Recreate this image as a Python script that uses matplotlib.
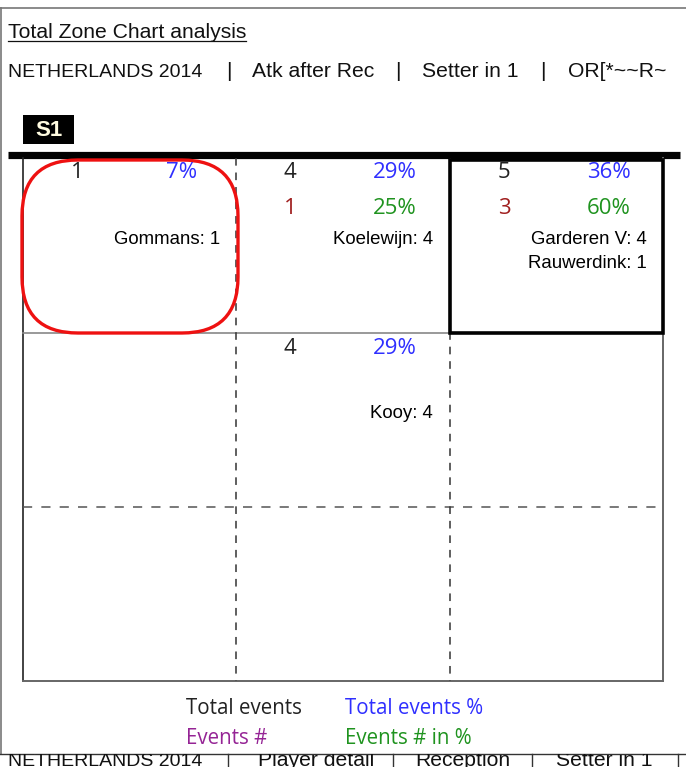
"""
Total Zone Chart analysis - NETHERLANDS 2014, attack after reception, setter in 1.
Draws the court in pixel coordinates so the layout matches the report page.
"""

import matplotlib

matplotlib.use("Agg")

import matplotlib.pyplot as plt
from matplotlib import font_manager
from matplotlib.patches import FancyBboxPatch, Rectangle


# 1. Data

title_text = "Total Zone Chart analysis"
subtitle_parts = ["NETHERLANDS 2014", "Atk after Rec", "Setter in 1", "OR[*~~R~"]
footer_parts = ["NETHERLANDS 2014", "Player detail", "Reception", "Setter in 1"]
rotation_label = "S1"

# zones that have data: column / row in the 3 x 3 grid
zone_cols = [0, 1, 2, 1]
zone_rows = [0, 0, 0, 1]
total_events = [1, 4, 5, 4]
total_events_pct = [7, 29, 36, 29]
events = [None, 1, 3, None]
events_pct = [None, 25, 60, None]
player_names = [["Gommans"], ["Koelewijn"], ["Garderen V", "Rauwerdink"], ["Kooy"]]
player_counts = [[1], [4], [4, 1], [4]]

legend_labels = ["Total events", "Total events %", "Events #", "Events # in %"]


# 2. Fonts and colours

installed = {f.name for f in font_manager.fontManager.ttflist}
if "Liberation Sans Narrow" in installed:
    NARROW = "Liberation Sans Narrow"
    head_size = 17
    caps_size = 17
else:
    NARROW = "Liberation Sans"
    head_size = 15.2
    caps_size = 14.0

NUM_FONT = "Open Sans"
NAME_FONT = "Liberation Sans"

BLUE = "#2f2fff"
DARK_RED = "#a01f1f"
GREEN = "#1f931f"
PURPLE = "#952495"
GRID_GREY = "#555555"


def part_size(text):
    # all-caps parts are wider in the fallback font
    return caps_size if text.isupper() and " " in text else head_size


# 3. Figure in pixel coordinates

fig = plt.figure(figsize=(6.86, 7.67), dpi=100)
ax = fig.add_axes([0, 0, 1, 1])
ax.set_xlim(0, 686)
ax.set_ylim(767, 0)
ax.axis("off")

# page border
ax.plot([0, 686], [8, 8], color="#777777", lw=1.2)
ax.plot([1, 1], [8, 754], color="#777777", lw=1.2)
ax.plot([0, 686], [754, 754], color="#333333", lw=1.0)

# title with underline
title = ax.text(8, 38, title_text, fontsize=head_size, family=NARROW,
                color="#111111", va="baseline", ha="left")
fig.canvas.draw()
bb = title.get_window_extent().transformed(ax.transData.inverted())
ax.plot([bb.x0, bb.x1], [41, 41], color="#111111", lw=0.9)

# subtitle, one part per column with separators
subtitle_x = [8, 252, 422, 568]
separator_x = [229, 398, 543]
for text, x in zip(subtitle_parts, subtitle_x):
    ax.text(x, 77, text, fontsize=part_size(text), family=NARROW,
            color="#111111", va="baseline", ha="left")
for x in separator_x:
    ax.text(x, 77, "|", fontsize=head_size, family=NARROW, color="#111111",
            va="baseline", ha="center")

# rotation box
ax.add_patch(Rectangle((23, 115), 51, 29, facecolor="black", edgecolor="none"))
ax.text(48.5, 130.5, rotation_label, fontsize=16, family=NARROW,
        weight="bold", color="#fffbe0", ha="center", va="center")

# net line
ax.plot([8, 680], [155, 155], color="black", lw=5.2, solid_capstyle="butt")


# 4. Court grid

X0, X1 = 23, 663
Y0, Y1 = 158, 681
col_edges = [23, 236, 450, 663]
row_edges = [158, 333, 507, 681]

ax.plot([X0, X0], [Y0, Y1], color="#222222", lw=1.2)
ax.plot([X1, X1], [Y0, Y1], color="#666666", lw=1.4)
ax.plot([X0, X1], [Y1, Y1], color="#666666", lw=1.4)
ax.plot([X0, X1], [row_edges[1], row_edges[1]], color="#888888", lw=1.2)
ax.plot([X0, X1], [row_edges[2], row_edges[2]], color=GRID_GREY, lw=1.1,
        dashes=(6, 6))
for x in col_edges[1:3]:
    ax.plot([x, x], [Y0, Y1], color="#333333", lw=1.1, dashes=(5, 4.5))

# highlighted zones
ax.add_patch(FancyBboxPatch((22, 160), 216, 173,
                            boxstyle="round,pad=0,rounding_size=56",
                            facecolor="none", edgecolor="#ee1111", lw=2.4,
                            zorder=3))
ax.add_patch(Rectangle((450, 160), 213, 173, facecolor="none",
                       edgecolor="black", lw=2.6, zorder=3))


# 5. Zone values

for i in range(len(zone_cols)):
    cx = col_edges[zone_cols[i]]
    cy = row_edges[zone_rows[i]]

    ax.text(cx + 54, cy + 15, str(total_events[i]), fontsize=16,
            family=NUM_FONT, color="#222222", ha="center", va="center")
    ax.text(cx + 159, cy + 15, f"{total_events_pct[i]}%", fontsize=16,
            family=NUM_FONT, color=BLUE, ha="center", va="center")

    if events[i] is not None:
        ax.text(cx + 54, cy + 50, str(events[i]), fontsize=16,
                family=NUM_FONT, color=DARK_RED, ha="center", va="center")
        ax.text(cx + 159, cy + 50, f"{events_pct[i]}%", fontsize=16,
                family=NUM_FONT, color=GREEN, ha="center", va="center")

    for j, name in enumerate(player_names[i]):
        ax.text(cx + 197, cy + 82 + j * 23 - (2 if zone_rows[i] else 0),
                f"{name}: {player_counts[i][j]}", fontsize=13.4,
                family=NAME_FONT, color="black", ha="right", va="center")


# 6. Legend

legend_colors = ["#222222", BLUE, PURPLE, GREEN]
legend_x = [186, 345, 186, 345]
legend_y = [709, 709, 739, 739]
for label, color, x, y in zip(legend_labels, legend_colors, legend_x, legend_y):
    ax.text(x, y, label, fontsize=14.8, family=NUM_FONT, color=color,
            ha="left", va="center")


# 7. Clipped footer row of the next page

clip = Rectangle((0, 754), 686, 13, transform=ax.transData)
footer_x = [8, 258, 415, 556]
footer_sep_x = [228, 393, 532, 678]
for text, x in zip(footer_parts, footer_x):
    t = ax.text(x, 766, text, fontsize=part_size(text), family=NARROW,
                color="#111111", va="baseline", ha="left", clip_on=True)
    t.set_clip_path(clip)
for x in footer_sep_x:
    ax.plot([x, x], [754, 767], color="#333333", lw=1.0)

fig.savefig("out.png", dpi=100)
plt.close(fig)
